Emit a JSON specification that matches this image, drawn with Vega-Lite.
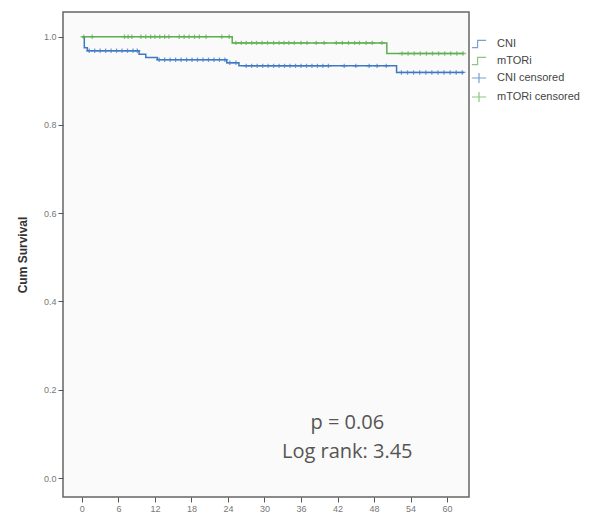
{
  "$schema": "https://vega.github.io/schema/vega-lite/v6.json",
  "width": 406,
  "height": 485,
  "autosize": "none",
  "padding": {"left": 63, "top": 12, "right": 137, "bottom": 24},
  "background": "#ffffff",
  "config": {
    "view": {"stroke": "#666666", "strokeWidth": 1.5, "fill": "#fafafa"},
    "font": "Liberation Sans"
  },
  "datasets": {
    "curves": [
      {"series": "CNI", "month": 0, "survival": 1.0},
      {"series": "CNI", "month": 0.4, "survival": 0.975},
      {"series": "CNI", "month": 0.9, "survival": 0.968},
      {"series": "CNI", "month": 9.4, "survival": 0.96},
      {"series": "CNI", "month": 10.5, "survival": 0.953},
      {"series": "CNI", "month": 12.4, "survival": 0.948},
      {"series": "CNI", "month": 23.8, "survival": 0.941},
      {"series": "CNI", "month": 25.8, "survival": 0.934},
      {"series": "CNI", "month": 51.7, "survival": 0.919},
      {"series": "CNI", "month": 62.8, "survival": 0.919},
      {"series": "mTORi", "month": 0, "survival": 1.0},
      {"series": "mTORi", "month": 24.7, "survival": 0.986},
      {"series": "mTORi", "month": 50.1, "survival": 0.962},
      {"series": "mTORi", "month": 62.8, "survival": 0.962}
    ],
    "censored": [
      {"series": "mTORi censored", "month": 0.3, "survival": 1.0},
      {"series": "mTORi censored", "month": 1.7, "survival": 1.0},
      {"series": "mTORi censored", "month": 7.0, "survival": 1.0},
      {"series": "mTORi censored", "month": 7.6, "survival": 1.0},
      {"series": "mTORi censored", "month": 8.2, "survival": 1.0},
      {"series": "mTORi censored", "month": 9.7, "survival": 1.0},
      {"series": "mTORi censored", "month": 10.5, "survival": 1.0},
      {"series": "mTORi censored", "month": 11.3, "survival": 1.0},
      {"series": "mTORi censored", "month": 12.0, "survival": 1.0},
      {"series": "mTORi censored", "month": 12.8, "survival": 1.0},
      {"series": "mTORi censored", "month": 13.6, "survival": 1.0},
      {"series": "mTORi censored", "month": 14.3, "survival": 1.0},
      {"series": "mTORi censored", "month": 16.0, "survival": 1.0},
      {"series": "mTORi censored", "month": 16.8, "survival": 1.0},
      {"series": "mTORi censored", "month": 17.6, "survival": 1.0},
      {"series": "mTORi censored", "month": 18.5, "survival": 1.0},
      {"series": "mTORi censored", "month": 19.3, "survival": 1.0},
      {"series": "mTORi censored", "month": 20.4, "survival": 1.0},
      {"series": "mTORi censored", "month": 23.0, "survival": 1.0},
      {"series": "mTORi censored", "month": 24.2, "survival": 1.0},
      {"series": "mTORi censored", "month": 25.3, "survival": 0.986},
      {"series": "mTORi censored", "month": 26.2, "survival": 0.986},
      {"series": "mTORi censored", "month": 27.0, "survival": 0.986},
      {"series": "mTORi censored", "month": 27.9, "survival": 0.986},
      {"series": "mTORi censored", "month": 28.7, "survival": 0.986},
      {"series": "mTORi censored", "month": 29.6, "survival": 0.986},
      {"series": "mTORi censored", "month": 30.5, "survival": 0.986},
      {"series": "mTORi censored", "month": 31.5, "survival": 0.986},
      {"series": "mTORi censored", "month": 32.4, "survival": 0.986},
      {"series": "mTORi censored", "month": 33.2, "survival": 0.986},
      {"series": "mTORi censored", "month": 34.0, "survival": 0.986},
      {"series": "mTORi censored", "month": 34.9, "survival": 0.986},
      {"series": "mTORi censored", "month": 36.0, "survival": 0.986},
      {"series": "mTORi censored", "month": 37.0, "survival": 0.986},
      {"series": "mTORi censored", "month": 38.5, "survival": 0.986},
      {"series": "mTORi censored", "month": 39.8, "survival": 0.986},
      {"series": "mTORi censored", "month": 41.8, "survival": 0.986},
      {"series": "mTORi censored", "month": 42.8, "survival": 0.986},
      {"series": "mTORi censored", "month": 43.8, "survival": 0.986},
      {"series": "mTORi censored", "month": 44.8, "survival": 0.986},
      {"series": "mTORi censored", "month": 45.6, "survival": 0.986},
      {"series": "mTORi censored", "month": 46.7, "survival": 0.986},
      {"series": "mTORi censored", "month": 47.7, "survival": 0.986},
      {"series": "mTORi censored", "month": 49.3, "survival": 0.986},
      {"series": "mTORi censored", "month": 52.6, "survival": 0.962},
      {"series": "mTORi censored", "month": 53.6, "survival": 0.962},
      {"series": "mTORi censored", "month": 54.6, "survival": 0.962},
      {"series": "mTORi censored", "month": 55.6, "survival": 0.962},
      {"series": "mTORi censored", "month": 56.6, "survival": 0.962},
      {"series": "mTORi censored", "month": 57.6, "survival": 0.962},
      {"series": "mTORi censored", "month": 58.6, "survival": 0.962},
      {"series": "mTORi censored", "month": 59.6, "survival": 0.962},
      {"series": "mTORi censored", "month": 60.6, "survival": 0.962},
      {"series": "mTORi censored", "month": 61.6, "survival": 0.962},
      {"series": "mTORi censored", "month": 62.6, "survival": 0.962},
      {"series": "CNI censored", "month": 1.2, "survival": 0.968},
      {"series": "CNI censored", "month": 2.1, "survival": 0.968},
      {"series": "CNI censored", "month": 3.0, "survival": 0.968},
      {"series": "CNI censored", "month": 3.9, "survival": 0.968},
      {"series": "CNI censored", "month": 4.8, "survival": 0.968},
      {"series": "CNI censored", "month": 5.7, "survival": 0.968},
      {"series": "CNI censored", "month": 6.6, "survival": 0.968},
      {"series": "CNI censored", "month": 7.5, "survival": 0.968},
      {"series": "CNI censored", "month": 8.4, "survival": 0.968},
      {"series": "CNI censored", "month": 9.1, "survival": 0.968},
      {"series": "CNI censored", "month": 12.7, "survival": 0.948},
      {"series": "CNI censored", "month": 13.6, "survival": 0.948},
      {"series": "CNI censored", "month": 14.5, "survival": 0.948},
      {"series": "CNI censored", "month": 15.4, "survival": 0.948},
      {"series": "CNI censored", "month": 16.3, "survival": 0.948},
      {"series": "CNI censored", "month": 17.2, "survival": 0.948},
      {"series": "CNI censored", "month": 18.1, "survival": 0.948},
      {"series": "CNI censored", "month": 19.0, "survival": 0.948},
      {"series": "CNI censored", "month": 19.9, "survival": 0.948},
      {"series": "CNI censored", "month": 20.8, "survival": 0.948},
      {"series": "CNI censored", "month": 21.7, "survival": 0.948},
      {"series": "CNI censored", "month": 22.6, "survival": 0.948},
      {"series": "CNI censored", "month": 23.5, "survival": 0.948},
      {"series": "CNI censored", "month": 24.3, "survival": 0.941},
      {"series": "CNI censored", "month": 25.3, "survival": 0.941},
      {"series": "CNI censored", "month": 27.0, "survival": 0.934},
      {"series": "CNI censored", "month": 27.9, "survival": 0.934},
      {"series": "CNI censored", "month": 28.8, "survival": 0.934},
      {"series": "CNI censored", "month": 29.7, "survival": 0.934},
      {"series": "CNI censored", "month": 30.6, "survival": 0.934},
      {"series": "CNI censored", "month": 31.5, "survival": 0.934},
      {"series": "CNI censored", "month": 32.4, "survival": 0.934},
      {"series": "CNI censored", "month": 33.3, "survival": 0.934},
      {"series": "CNI censored", "month": 34.2, "survival": 0.934},
      {"series": "CNI censored", "month": 35.1, "survival": 0.934},
      {"series": "CNI censored", "month": 36.0, "survival": 0.934},
      {"series": "CNI censored", "month": 36.9, "survival": 0.934},
      {"series": "CNI censored", "month": 37.8, "survival": 0.934},
      {"series": "CNI censored", "month": 38.7, "survival": 0.934},
      {"series": "CNI censored", "month": 39.6, "survival": 0.934},
      {"series": "CNI censored", "month": 40.5, "survival": 0.934},
      {"series": "CNI censored", "month": 43.1, "survival": 0.934},
      {"series": "CNI censored", "month": 45.0, "survival": 0.934},
      {"series": "CNI censored", "month": 47.2, "survival": 0.934},
      {"series": "CNI censored", "month": 48.5, "survival": 0.934},
      {"series": "CNI censored", "month": 50.0, "survival": 0.934},
      {"series": "CNI censored", "month": 52.5, "survival": 0.919},
      {"series": "CNI censored", "month": 53.5, "survival": 0.919},
      {"series": "CNI censored", "month": 54.5, "survival": 0.919},
      {"series": "CNI censored", "month": 55.5, "survival": 0.919},
      {"series": "CNI censored", "month": 56.5, "survival": 0.919},
      {"series": "CNI censored", "month": 57.5, "survival": 0.919},
      {"series": "CNI censored", "month": 58.5, "survival": 0.919},
      {"series": "CNI censored", "month": 59.5, "survival": 0.919},
      {"series": "CNI censored", "month": 60.5, "survival": 0.919},
      {"series": "CNI censored", "month": 61.5, "survival": 0.919},
      {"series": "CNI censored", "month": 62.5, "survival": 0.919}
    ],
    "notes": [
      {"label": "p = 0.06", "month": 43.6, "survival": 0.124},
      {"label": "Log rank: 3.45", "month": 43.6, "survival": 0.058}
    ]
  },
  "layer": [
    {
      "data": {"name": "curves"},
      "mark": {"type": "line", "interpolate": "step-after", "strokeWidth": 1.5},
      "encoding": {
        "x": {
          "field": "month", "type": "quantitative",
          "scale": {"domain": [-3.1, 63.6], "nice": false, "zero": false},
          "axis": {
            "values": [0, 6, 12, 18, 24, 30, 36, 42, 48, 54, 60],
            "title": null, "grid": false, "domain": false,
            "tickSize": 5, "tickColor": "#555555", "labelFontSize": 9,
            "labelColor": "#777777", "labelPadding": 2
          }
        },
        "y": {
          "field": "survival", "type": "quantitative",
          "scale": {"domain": [-0.043, 1.056], "nice": false, "zero": false},
          "axis": {
            "values": [0, 0.2, 0.4, 0.6, 0.8, 1.0], "format": ".1f",
            "title": "Cum Survival", "titleFontWeight": "bold", "titleFontSize": 12,
            "titleColor": "#333333", "titlePadding": 14,
            "grid": false, "domain": false,
            "tickSize": 5, "tickColor": "#555555", "labelFontSize": 9,
            "labelColor": "#777777", "labelPadding": 2
          }
        },
        "color": {
          "field": "series", "type": "nominal",
          "scale": {
            "domain": ["CNI", "mTORi", "CNI censored", "mTORi censored"],
            "range": ["#3f78c4", "#5cae50", "#3f78c4", "#5cae50"]
          },
          "legend": {
            "title": null, "orient": "none", "legendX": 408, "legendY": 24,
            "symbolSize": 200, "symbolStrokeWidth": 1.2, "labelFontSize": 11,
            "labelColor": "#444444", "rowPadding": 3, "labelOffset": 10
          }
        }
      }
    },
    {
      "data": {"name": "censored"},
      "mark": {"type": "point", "filled": false, "size": 40, "strokeWidth": 1.3},
      "encoding": {
        "x": {"field": "month", "type": "quantitative"},
        "y": {"field": "survival", "type": "quantitative"},
        "color": {"field": "series", "type": "nominal"},
        "shape": {
          "field": "series", "type": "nominal",
          "scale": {
            "domain": ["CNI", "mTORi", "CNI censored", "mTORi censored"],
            "range": ["M-1,0.5H-0.2V-0.5H1", "M-1,0.5H-0.2V-0.5H1", "M-1,0H1M0,-0.7V0.7", "M-1,0H1M0,-0.7V0.7"]
          },
          "legend": {
            "title": null, "orient": "none", "legendX": 408, "legendY": 24,
            "symbolSize": 200, "symbolStrokeWidth": 1.2, "labelFontSize": 11,
            "labelColor": "#444444", "rowPadding": 3, "labelOffset": 10
          }
        }
      }
    },
    {
      "data": {"name": "notes"},
      "mark": {"type": "text", "fontSize": 20, "font": "Open Sans", "color": "#555555", "align": "center", "baseline": "middle"},
      "encoding": {
        "x": {"field": "month", "type": "quantitative"},
        "y": {"field": "survival", "type": "quantitative"},
        "text": {"field": "label", "type": "nominal"}
      }
    }
  ]
}
